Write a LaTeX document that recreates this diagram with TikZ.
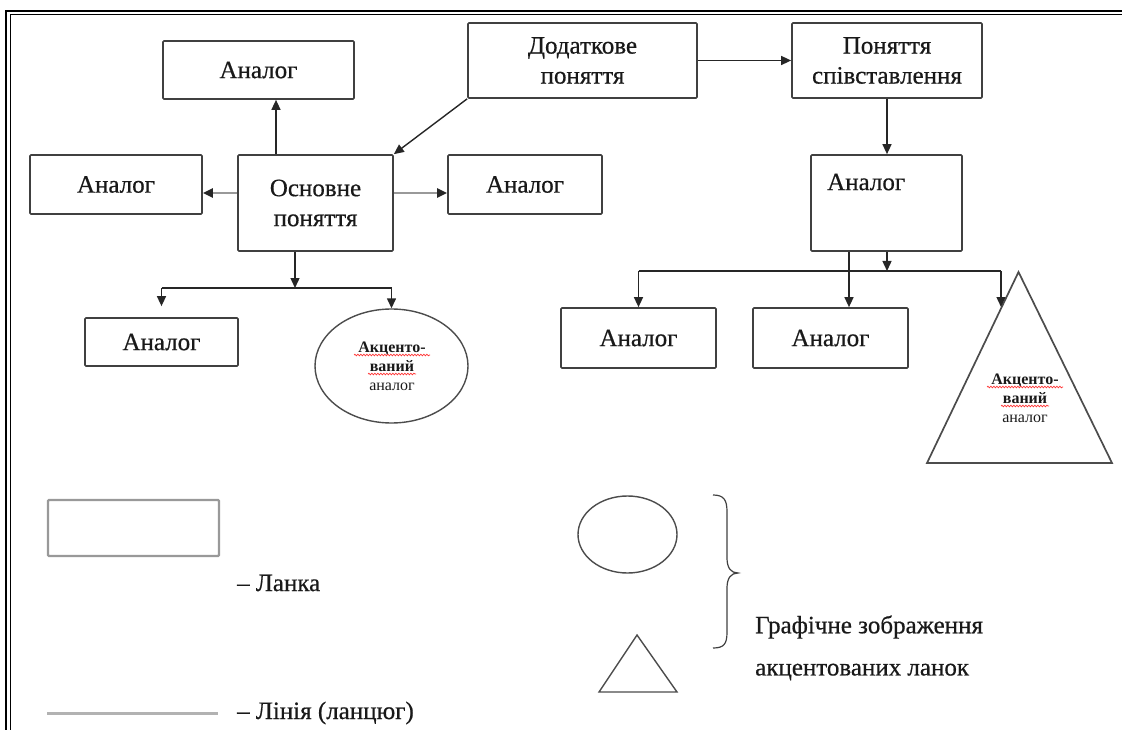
\documentclass[tikz,border=0pt]{standalone}
\usepackage{fontspec}
\setmainfont{Liberation Serif}
\newfontface\heavyface{Liberation Serif}[FakeBold=0.6]
\usetikzlibrary{arrows.meta,shapes.geometric,decorations.pathmorphing}
\begin{document}
\begin{tikzpicture}[x=1pt,y=-1pt,
  txt/.style={font=\heavyface\fontsize{25}{30}\selectfont,text=black!90},
  box/.style={txt,draw=black!75,line width=1.7pt,rounded corners=1pt,inner sep=0pt,align=center},
  arr/.style={draw=black!85,line width=1.4pt,-{Triangle[length=10pt,width=9pt]}},
  garr/.style={draw=black!40,line width=2.8pt,-{Triangle[length=10pt,width=9pt,color=black!85]}},
  ln/.style={draw=black!85,line width=1.4pt},
  small/.style={font=\fontsize{16}{19}\selectfont,text=black!90,align=center,inner sep=0pt},
  sq/.style={draw=red!80,line width=0.7pt,decorate,decoration={snake,amplitude=0.8pt,segment length=3pt}},
  shp/.style={draw=black!70,line width=1.4pt}
]
\useasboundingbox (0,0) rectangle (1122,730);
% frame
\draw[line width=1.5pt] (6,730) -- (6,11) -- (1122,11);
\draw[line width=0.8pt] (10,730) -- (10,14.5) -- (1122,14.5);

% nodes
\node[box,minimum width=191pt,minimum height=58pt] (atop) at (258.5,70) {Аналог};
\node[box,minimum width=229pt,minimum height=75pt] (dod) at (582.5,60.5) {Додаткове\\поняття};
\node[box,minimum width=190pt,minimum height=75pt] (pon) at (887,60.5) {Поняття\\співставлення};
\node[box,minimum width=172pt,minimum height=59pt] (aleft) at (116,184.5) {Аналог};
\node[box,minimum width=155pt,minimum height=96pt] (osn) at (315.5,203) {Основне\\поняття};
\node[box,minimum width=154pt,minimum height=59pt] (amid) at (525,184.5) {Аналог};
\node[box,minimum width=151pt,minimum height=96pt] (abig) at (886.5,203) {};
\node[txt,anchor=west,inner sep=0pt] (abigt) at (827,182) {Аналог};
\node[box,minimum width=153pt,minimum height=48pt] (all) at (161.5,342) {Аналог};
\node[shp,ellipse,minimum width=153pt,minimum height=114pt,inner sep=0pt] (ell) at (391.5,366) {};
\node[small] (ellt) at (392,366) {\textbf{Акценто-}\\\textbf{ваний}\\аналог};
\node[box,minimum width=155pt,minimum height=60pt] (ar1) at (638.5,338) {Аналог};
\node[box,minimum width=155pt,minimum height=60pt] (ar2) at (830.5,338) {Аналог};

% triangle
\coordinate (tA) at (1018.5,272);
\coordinate (tB) at (927,463);
\coordinate (tC) at (1112,463);
\draw[shp,line width=1.7pt] (tA) -- (tB) -- (tC) -- cycle;
\node[small] (trit) at (1025,398) {\textbf{Акценто-}\\\textbf{ваний}\\аналог};

% spell-check squiggles
\draw[sq] (354,355) -- (430,355);
\draw[sq] (368,374) -- (416,374);
\draw[sq] (987,387) -- (1063,387);
\draw[sq] (1001,406) -- (1049,406);

% connectors
\draw[arr] ([xshift=-39.5pt]osn.north) -- ([xshift=-39.5pt]osn.north |- atop.south);
\draw[garr] ([yshift=10pt]osn.west) -- ([yshift=10pt]osn.west -| aleft.east);
\draw[garr] ([yshift=10pt]osn.east) -- ([yshift=10pt]osn.east -| amid.west);
\draw[arr] (dod.south west) -- (osn.north east);
\draw[arr] (dod.east) -- (pon.west);
\draw[arr] (pon.south) -- (pon.south |- abig.north);

\coordinate (bl) at (295,288);
\draw[arr] (osn.south -| bl) -- (bl);
\draw[ln] (all.north |- bl) -- (ell.north |- bl);
\draw[arr] (all.north |- bl) -- ([yshift=11pt]all.north);
\draw[arr] (ell.north |- bl) -- (ell.north);

\coordinate (br) at (887,271);
\coordinate (brr) at (1001,271);
\coordinate (tside) at (1001,307);
\draw[arr] (abig.south -| br) -- (br);
\draw[ln] (ar1.north |- br) -- (brr);
\draw[arr] (ar1.north |- br) -- (ar1.north);
\draw[arr] ([xshift=-37.5pt]abig.south) -- ([xshift=-37.5pt]abig.south |- ar2.north);
\draw[arr] (brr) -- (tside);

% legend
\node[draw=black!40,line width=2.4pt,rounded corners=1pt,minimum width=171pt,minimum height=56pt,inner sep=0pt] (lrect) at (133.5,528) {};
\node[txt,anchor=west,inner sep=0pt] (lanka) at (237,583) {– Ланка};
\coordinate (lla) at (47,713);
\coordinate (llb) at (218,713);
\draw[draw=black!30,line width=3pt] (lla) -- (llb);
\node[txt,anchor=west,inner sep=0pt] (linia) at (237,713) {– Лінія (ланцюг)};

\node[shp,ellipse,minimum width=99pt,minimum height=77pt,inner sep=0pt] (lell) at (627.5,534.5) {};
\coordinate (lA) at (637,635);
\coordinate (lB) at (599,692);
\coordinate (lC) at (677,692);
\draw[shp] (lA) -- (lB) -- (lC) -- cycle;
\draw[black!75,line width=1.2pt] (713,495) .. controls (724,495) and (727,500) .. (727,512) -- (727,558) .. controls (727,568) and (731,573) .. (738,573) .. controls (731,573) and (727,578) .. (727,588) -- (727,632) .. controls (727,644) and (724,648) .. (713,648);
\node[txt,anchor=west,inner sep=0pt] (gr1) at (755,627) {Графічне зображення};
\node[txt,anchor=west,inner sep=0pt] (gr2) at (755,672) {акцентованих ланок};
\end{tikzpicture}
\end{document}
